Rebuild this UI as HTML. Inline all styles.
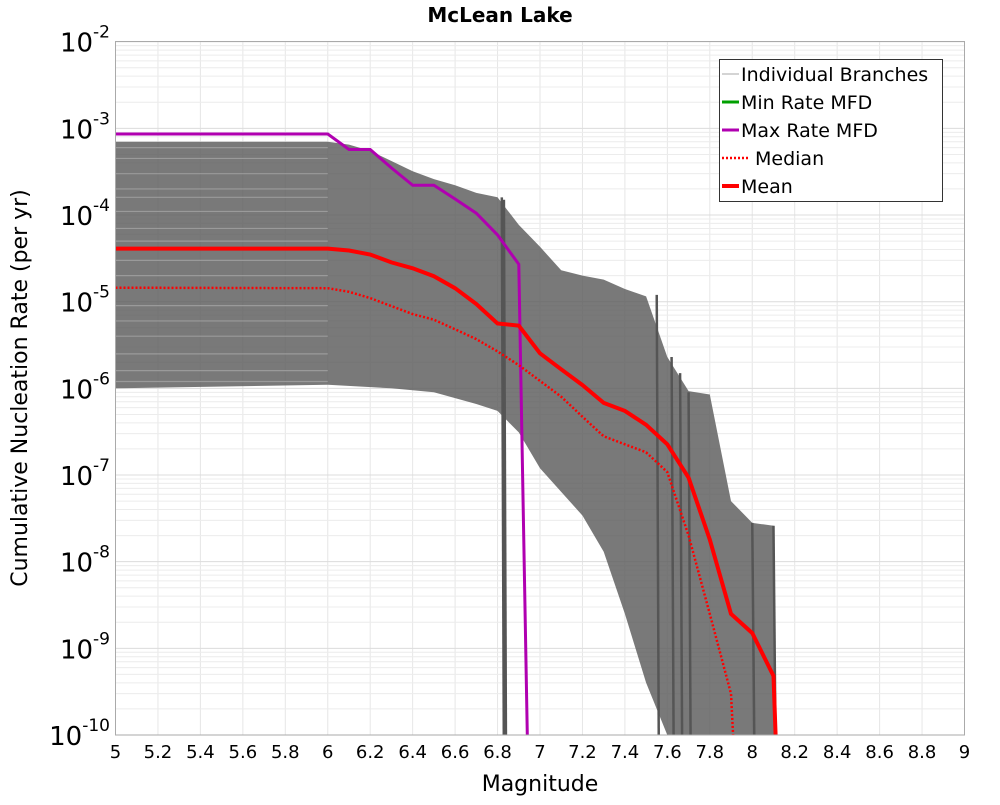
<!DOCTYPE html>
<html><head><meta charset="utf-8"><style>
body{margin:0;background:#fff;font-family:"Liberation Sans","DejaVu Sans",sans-serif}
svg text{font-family:"DejaVu Sans","Liberation Sans",sans-serif}
</style></head><body>
<svg id="c" width="1000" height="800" viewBox="0 0 1000 800" xmlns="http://www.w3.org/2000/svg">
<text x="500" y="22" text-anchor="middle" font-size="20" font-weight="bold">McLean Lake</text>
<g id="grid"></g>
<g id="marks"></g>
<rect x="115.5" y="41.5" width="849" height="693.5" fill="none" stroke="#aaa"/>
<g id="ticks"></g>
<text x="540" y="791" text-anchor="middle" font-size="22">Magnitude</text>
<text transform="translate(27,388) rotate(-90)" text-anchor="middle" font-size="22">Cumulative Nucleation Rate (per yr)</text>
<g>
<rect x="719.5" y="59.5" width="223" height="142" fill="#fff" stroke="#333"/>
<line x1="722" y1="74" x2="739" y2="74" stroke="#aaa" stroke-width="1"/>
<text x="741" y="81" font-size="19">Individual Branches</text>
<line x1="722" y1="102" x2="739" y2="102" stroke="#00a000" stroke-width="3"/>
<text x="741" y="109" font-size="19">Min Rate MFD</text>
<line x1="722" y1="130" x2="739" y2="130" stroke="#b000b0" stroke-width="3"/>
<text x="741" y="137" font-size="19">Max Rate MFD</text>
<line x1="722" y1="158" x2="750" y2="158" stroke="#f00" stroke-width="2.5" stroke-dasharray="2,2"/>
<text x="755" y="165" font-size="19">Median</text>
<line x1="722" y1="186" x2="739" y2="186" stroke="#f00" stroke-width="4"/>
<text x="741" y="193" font-size="19">Mean</text>
</g>
</svg>
<script>
const xTicks=[5,5.2,5.4,5.6,5.8,6,6.2,6.4,6.6,6.8,7,7.2,7.4,7.6,7.8,8,8.2,8.4,8.6,8.8,9];
const yExps=[-2,-3,-4,-5,-6,-7,-8,-9,-10];
const meanM=[5,6,6.1,6.2,6.3,6.4,6.5,6.6,6.7,6.8,6.9,7.0,7.1,7.2,7.3,7.4,7.5,7.6,7.7,7.8,7.9,8.0,8.1,8.11];
const meanV=[4.1e-5,4.1e-5,3.9e-5,3.5e-5,2.84e-5,2.43e-5,1.97e-5,1.43e-5,9.4e-6,5.6e-6,5.3e-6,2.54e-6,1.66e-6,1.09e-6,6.8e-7,5.5e-7,3.8e-7,2.26e-7,9.3e-8,1.8e-8,2.5e-9,1.5e-9,4.8e-10,1e-10];
const medM=[5,6,6.1,6.2,6.3,6.4,6.5,6.6,6.7,6.8,6.9,7.0,7.1,7.2,7.3,7.4,7.5,7.6,7.7,7.8,7.9,7.91];
const medV=[1.45e-5,1.43e-5,1.3e-5,1.1e-5,8.9e-6,7.2e-6,6.2e-6,4.8e-6,3.7e-6,2.67e-6,1.85e-6,1.22e-6,8e-7,4.7e-7,2.8e-7,2.26e-7,1.83e-7,1.08e-7,2e-8,2.5e-9,3e-10,1e-10];
const maxM=[5,6,6.1,6.2,6.3,6.4,6.5,6.6,6.7,6.8,6.9,6.94];
const maxV=[8.6e-4,8.6e-4,5.7e-4,5.7e-4,3.5e-4,2.2e-4,2.2e-4,1.53e-4,1.05e-4,5.9e-5,2.7e-5,1e-10];
const upM=[5,6,6.1,6.2,6.3,6.4,6.5,6.6,6.7,6.8,6.9,7.0,7.1,7.2,7.3,7.4,7.5,7.6,7.7,7.8,7.9,8.0,8.1,8.11];
const upV=[7e-4,7e-4,6.5e-4,5.5e-4,4.2e-4,3.2e-4,2.6e-4,2.2e-4,1.8e-4,1.6e-4,7.7e-5,4.3e-5,2.3e-5,2e-5,1.8e-5,1.4e-5,1.15e-5,2.3e-6,9.3e-7,8.5e-7,5e-8,2.8e-8,2.6e-8,1e-10];
const loM=[5,6,6.3,6.5,6.7,6.8,6.9,7.0,7.2,7.3,7.4,7.5,7.6];
const loV=[1e-6,1.1e-6,1e-6,9e-7,6.6e-7,5.5e-7,3.1e-7,1.2e-7,3.4e-8,1.3e-8,2.5e-9,4e-10,1e-10];
const dropM=[6.82,6.83,7.55,7.62,7.66,7.7,8.0,8.1];
const dropTop=[1.6e-4,1.5e-4,1.2e-5,2.3e-6,1.5e-6,9e-7,2.8e-8,2.6e-8];
const stripeV=[6e-4,4.5e-4,3e-4,2e-4,1.6e-4,1.1e-4,7e-5,5e-5,3e-5,2e-5,9e-6,6e-6,4e-6,2.5e-6,1.6e-6,1.2e-6];

const L=115.5,R=964.5,T=41.7,B=735;
const X=m=>L+(m-5)/4*(R-L);
const Y=v=>T+(-2-Math.log10(v))/8*(B-T);
const NS="http://www.w3.org/2000/svg";
function mk(tag,attrs,parent){const e=document.createElementNS(NS,tag);for(const k in attrs)e.setAttribute(k,attrs[k]);parent.appendChild(e);return e;}
const grid=document.getElementById('grid'),marks=document.getElementById('marks'),ticks=document.getElementById('ticks');
xTicks.forEach(m=>{const l=mk('line',{x1:X(m),x2:X(m),y1:T,y2:B,stroke:'#e6e6e6'},grid);


const t=mk('text',{x:X(m),y:758,'text-anchor':'middle','font-size':18},ticks);t.textContent=String(m);

});
yExps.forEach(e=>{for(let k=1;k<=9;k++){if(e===-2&&k>1)break;const v=k*Math.pow(10,e);
const l=mk('line',{x1:L,x2:R,y1:Y(v),y2:Y(v),stroke:k===1?'#dcdcdc':'#ececec'},grid);

}
const t=mk('text',{x:110,y:Y(Math.pow(10,e))+10,'text-anchor':'end','font-size':26},ticks);


const a=mk('tspan',{},t);a.textContent='10';const s=mk('tspan',{dy:-14,'font-size':17},t);s.textContent=String(e);});
const pts=(ms,vs)=>ms.map((m,i)=>X(m).toFixed(1)+','+Y(vs[i]).toFixed(1)).join(' ');
// envelope
let env=pts(upM,upV)+' '+X(8.11).toFixed(1)+','+B+' '+pts(loM.slice().reverse(),loV.slice().reverse());
const band=mk('polygon',{points:env,fill:'#5c5c5c','fill-opacity':0.82},marks);


stripeV.forEach(v=>{const l=mk('line',{x1:L,x2:X(6),y1:Y(v),y2:Y(v),stroke:'#9a9a9a','stroke-width':1.2},marks);

});
dropM.forEach((m,i)=>{const l=mk('line',{x1:X(m),x2:X(m)+2,y1:Y(dropTop[i]),y2:B,stroke:'#555','stroke-width':2.5},marks);

});
const mx=mk('polyline',{points:pts(maxM,maxV),fill:'none',stroke:'#b000b0','stroke-width':3},marks);


const md=mk('polyline',{points:pts(medM,medV),fill:'none',stroke:'#f00','stroke-width':2.5,'stroke-dasharray':'2,2'},marks);


const mn=mk('polyline',{points:pts(meanM,meanV),fill:'none',stroke:'#f00','stroke-width':4},marks);


</script>
</body></html>
